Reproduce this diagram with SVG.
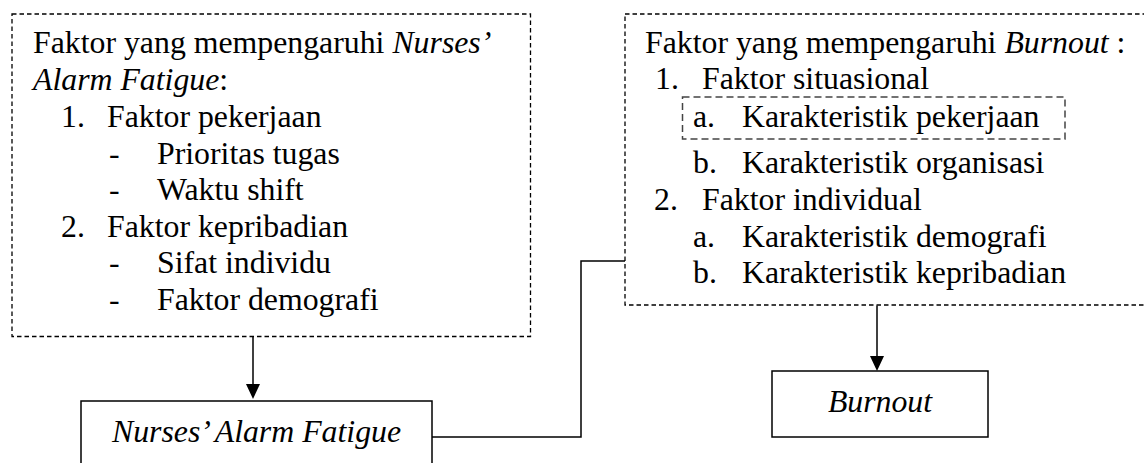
<svg xmlns="http://www.w3.org/2000/svg" width="1144" height="463" viewBox="0 0 1144 463">
<style>
text{font-family:'Liberation Serif','Times New Roman',serif;font-size:31.8px;fill:#000}
.i{font-style:italic}
.dash{fill:none;stroke:#000;stroke-width:1.3;stroke-dasharray:4.5 3}
.dash2{fill:none;stroke:#444;stroke-width:1.5;stroke-dasharray:7 4}
.box{fill:#fff;stroke:#000;stroke-width:1.5}
.conn{fill:none;stroke:#000;stroke-width:1.5}
</style>
<g id="connectors">
<line class="conn" x1="253" y1="336.5" x2="253" y2="384"/>
<path d="M246,384 L260,384 L253,399 Z" fill="#000"/>
<line class="conn" x1="877" y1="305.5" x2="877" y2="356"/>
<path d="M870,356 L884,356 L877,371 Z" fill="#000"/>
<polyline class="conn" points="432,437 581,437 581,261 625,261"/>
</g>
<g id="faktor-nurses">
<rect class="dash" x="12" y="14" width="518.5" height="322.5"/>
<text x="33" y="53">Faktor yang mempengaruhi <tspan class="i">Nurses’</tspan></text>
<text x="33" y="90"><tspan class="i">Alarm Fatigue</tspan>:</text>
<text x="61" y="127">1.</text><text x="107" y="127">Faktor pekerjaan</text>
<text x="109" y="164">-</text><text x="157" y="164">Prioritas tugas</text>
<text x="109" y="200">-</text><text x="157" y="200">Waktu shift</text>
<text x="61" y="237">2.</text><text x="107" y="237">Faktor kepribadian</text>
<text x="109" y="273">-</text><text x="157" y="273">Sifat individu</text>
<text x="109" y="310">-</text><text x="157" y="310">Faktor demografi</text>
</g>
<g id="faktor-burnout">
<rect class="dash" x="625" y="14" width="530" height="291"/>
<text x="645" y="53">Faktor yang mempengaruhi <tspan class="i">Burnout</tspan> :</text>
<text x="655" y="89">1.</text><text x="702" y="89">Faktor situasional</text>
<rect class="dash2" x="682.5" y="97" width="382.5" height="42"/>
<text x="693" y="127">a.</text><text x="742" y="127">Karakteristik pekerjaan</text>
<text x="693" y="173">b.</text><text x="742" y="173">Karakteristik organisasi</text>
<text x="654" y="210">2.</text><text x="702" y="210">Faktor individual</text>
<text x="693" y="247">a.</text><text x="742" y="247">Karakteristik demografi</text>
<text x="693" y="283">b.</text><text x="742" y="283">Karakteristik kepribadian</text>
</g>
<g id="nurses-alarm-fatigue">
<rect class="box" x="81" y="401" width="351" height="80"/>
<text class="i" x="256.5" y="442" text-anchor="middle">Nurses’ Alarm Fatigue</text>
</g>
<g id="burnout">
<rect class="box" x="772" y="371" width="216" height="66"/>
<text class="i" x="880" y="412" text-anchor="middle">Burnout</text>
</g>
</svg>
